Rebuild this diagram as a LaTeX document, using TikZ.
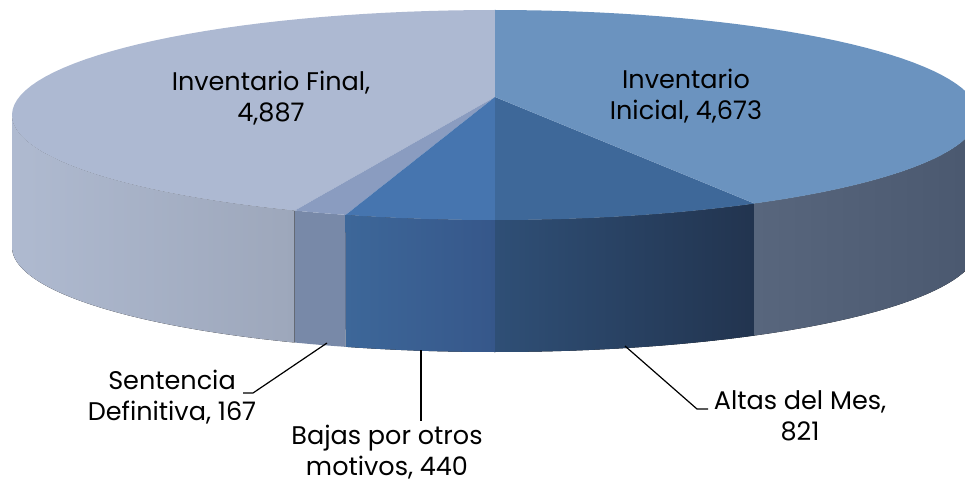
\documentclass[tikz,border=0pt]{standalone}
\usepackage{fontspec}
\setmainfont{Poppins}
\usepackage{tikz}

\definecolor{finTop}{HTML}{ADB9D2}
\definecolor{finSideL}{HTML}{AFBAD0}
\definecolor{finSideR}{HTML}{9DA7BB}
\definecolor{senTop}{HTML}{8A9CC0}
\definecolor{senSide}{HTML}{7889A8}
\definecolor{bajTop}{HTML}{4675AF}
\definecolor{bajSideL}{HTML}{3D6799}
\definecolor{bajSideR}{HTML}{36578A}
\definecolor{altTop}{HTML}{3E6899}
\definecolor{altSideL}{HTML}{2F4F76}
\definecolor{altSideR}{HTML}{22344F}
\definecolor{iniTop}{HTML}{6B93BF}
\definecolor{iniSideL}{HTML}{58667D}
\definecolor{iniSideR}{HTML}{4A586F}

\tikzset{
  lbl/.style={align=center, inner sep=0pt, font=\fontsize{25.5}{31}\selectfont},
  leader/.style={draw=black, line width=1.2pt},
  rim/.style={samples=60},
  declare function={tx(\a)=495+483*cos(\a); ty(\a)=115-105*sin(\a); by(\a)=247-105*sin(\a);},
}

\begin{document}
\begin{tikzpicture}[x=1pt, y=-1pt]
			\useasboundingbox (0,0) rectangle (965,486);
			\clip (0,0) rectangle (965,486);
			\coordinate (apex) at (495,97);
			
			% sides
			\fill[left color=finSideL, right color=finSideR] plot[rim, domain=180:245.5] ({tx(\x)},{ty(\x)}) -- plot[rim, domain=245.5:180] ({tx(\x)},{by(\x)}) -- cycle;
			\fill[senSide] plot[rim, domain=245.5:252] ({tx(\x)},{ty(\x)}) -- plot[rim, domain=252:245.5] ({tx(\x)},{by(\x)}) -- cycle;
			\fill[left color=bajSideL, right color=bajSideR] plot[rim, domain=252:270] ({tx(\x)},{ty(\x)}) -- plot[rim, domain=270:252] ({tx(\x)},{by(\x)}) -- cycle;
			\fill[left color=altSideL, right color=altSideR] plot[rim, domain=270:302.5] ({tx(\x)},{ty(\x)}) -- plot[rim, domain=302.5:270] ({tx(\x)},{by(\x)}) -- cycle;
			\fill[left color=iniSideL, right color=iniSideR] plot[rim, domain=302.5:360] ({tx(\x)},{ty(\x)}) -- plot[rim, domain=360:302.5] ({tx(\x)},{by(\x)}) -- cycle;
			
			% top faces
			\fill[finTop] (apex) -- plot[rim, domain=90:245.5] ({tx(\x)},{ty(\x)}) -- cycle;
			\fill[senTop] (apex) -- plot[rim, domain=245.5:252] ({tx(\x)},{ty(\x)}) -- cycle;
			\fill[bajTop] (apex) -- plot[rim, domain=252:270] ({tx(\x)},{ty(\x)}) -- cycle;
			\fill[altTop] (apex) -- plot[rim, domain=270:302.5] ({tx(\x)},{ty(\x)}) -- cycle;
			\fill[iniTop] (apex) -- plot[rim, domain=302.5:450] ({tx(\x)},{ty(\x)}) -- cycle;
			
			% labels
			\node[lbl] (fin) at (271,98) {Inventario Final,\\4,887};
			\node[lbl] (ini) at (686,96) {Inventario\\Inicial, 4,673};
			\node[lbl] (sen) at (172,397) {Sentencia\\Definitiva, 167};
			\node[lbl] (baj) at (387,452) {Bajas por otros\\motivos, 440};
			\node[lbl] (alt) at (800,416) {Altas del Mes,\\821};
			
			% leaders
			\coordinate (senPt) at (327,343);
			\coordinate (senKnee) at (253,393);
			\coordinate (senEnd) at (243,393);
			\coordinate (bajPt) at (421,350);
			\coordinate (bajEnd) at (421,421);
			\coordinate (altPt) at (625,346);
			\coordinate (altKnee) at (697,409);
			\coordinate (altEnd) at (708,409);
			\draw[leader] (senPt) -- (senKnee) -- (senEnd);
			\draw[leader] (bajPt) -- (bajEnd);
			\draw[leader] (altPt) -- (altKnee) -- (altEnd);
		\end{tikzpicture}
\end{document}
